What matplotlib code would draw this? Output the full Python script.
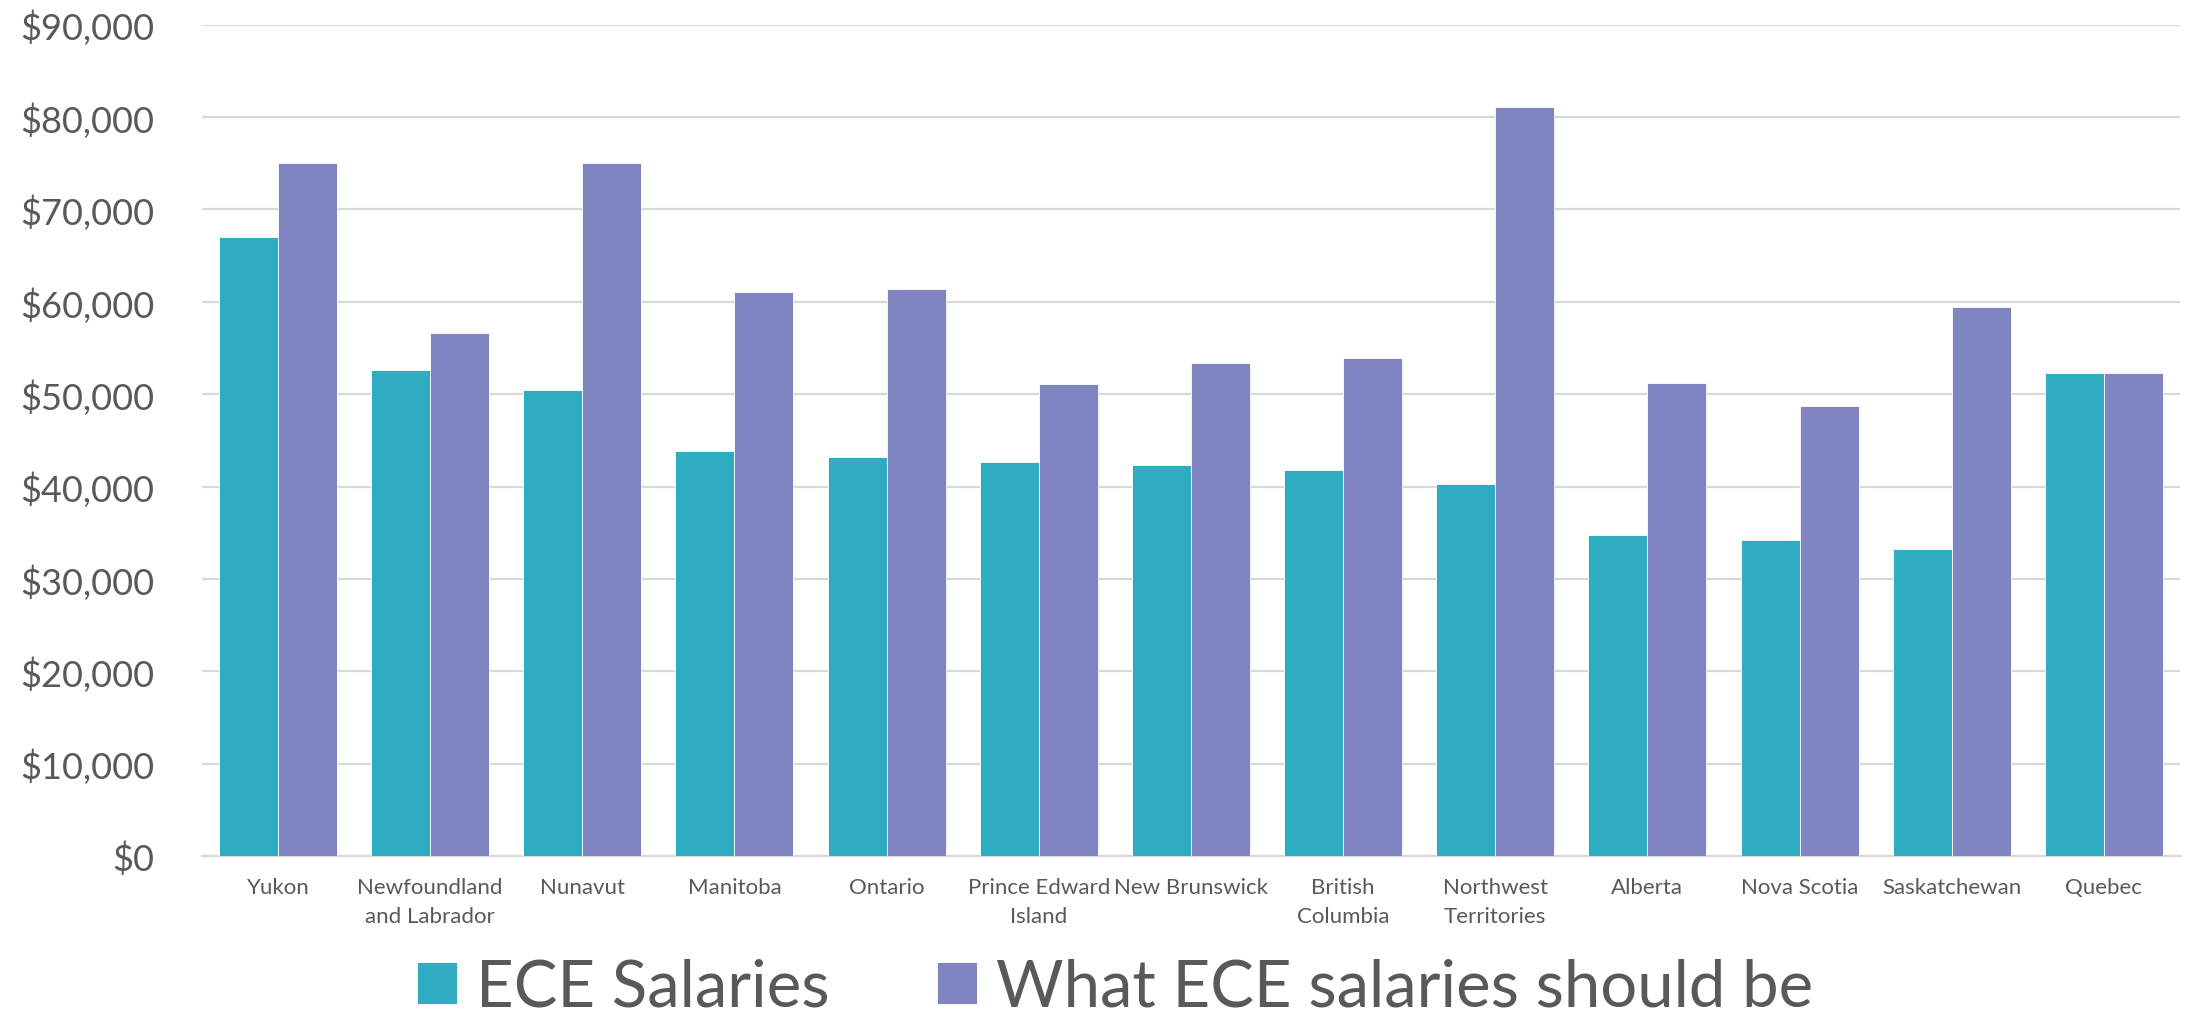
import matplotlib
matplotlib.use('Agg')
import matplotlib.pyplot as plt
from matplotlib.ticker import FuncFormatter, MultipleLocator
import numpy as np

provinces = ['Yukon', 'Newfoundland\nand Labrador', 'Nunavut', 'Manitoba', 'Ontario',
             'Prince Edward\nIsland', 'New Brunswick', 'British\nColumbia', 'Northwest\nTerritories',
             'Alberta', 'Nova Scotia', 'Saskatchewan', 'Quebec']
ece_salaries = [67000, 52600, 50500, 43800, 43200, 42700, 42300, 41800, 40300,
                34700, 34200, 33200, 52300]
should_be = [75000, 56600, 75000, 61100, 61400, 51100, 53400, 53900, 81100,
             51200, 48700, 59400, 52300]
series_names = ['ECE Salaries', 'What ECE salaries should be']

TEAL = '#2EACC1'
PURPLE = '#7F85C1'
TEXT = '#595959'
GRID = '#D9D9D9'

plt.rcParams['font.family'] = ['Lato', 'DejaVu Sans']

fig = plt.figure(figsize=(21.9, 10.2), dpi=100)
ax = fig.add_axes([0.0922, 0.1598, 0.9032, 0.815])

x = np.arange(len(provinces))
w = 0.388
b1 = ax.bar(x - w / 2, ece_salaries, w, color=TEAL, edgecolor='white', linewidth=0.6, zorder=3)
b2 = ax.bar(x + w / 2, should_be, w, color=PURPLE, edgecolor='white', linewidth=0.6, zorder=3)

ax.set_xlim(-0.5, len(provinces) - 0.5)
ax.set_ylim(0, 90000)
ax.yaxis.set_major_locator(MultipleLocator(10000))
ax.yaxis.set_major_formatter(FuncFormatter(lambda v, p: '${:,.0f}'.format(v)))
ax.grid(axis='y', color=GRID, linewidth=1.6, zorder=0)
ax.set_axisbelow(True)
for s in ['top', 'right', 'left']:
    ax.spines[s].set_visible(False)
ax.spines['bottom'].set_color(GRID)
ax.spines['bottom'].set_linewidth(1.6)

ax.set_xticks(x)
ax.set_xticklabels(provinces, fontsize=16, color=TEXT, linespacing=1.6)
ax.tick_params(axis='x', length=0, pad=15)
ax.tick_params(axis='y', length=0, pad=34, labelsize=26, labelcolor=TEXT)

leg = fig.legend([b1, b2], series_names, loc='center', bbox_to_anchor=(0.509, 0.031),
                 ncol=2, frameon=False, prop={'size': 47},
                 handlelength=0.62, handleheight=0.62, handletextpad=0.28,
                 columnspacing=1.65, borderpad=0)
for t in leg.get_texts():
    t.set_color(TEXT)

fig.savefig('out.png', dpi=100)
